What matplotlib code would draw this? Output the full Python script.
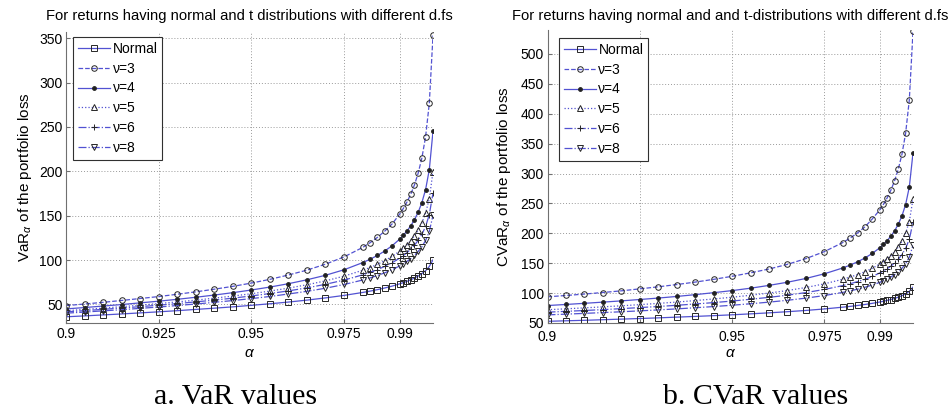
#import necessary libraries
import matplotlib
matplotlib.use('Agg')
import matplotlib.pyplot as plt

plt.rcParams['font.family'] = ['Liberation Sans', 'DejaVu Sans']
plt.rcParams['mathtext.fontset'] = 'custom'
plt.rcParams['mathtext.rm'] = 'Liberation Sans'
plt.rcParams['mathtext.it'] = 'Liberation Sans:italic'

#confidence levels
alpha = [0.900, 0.905, 0.910, 0.915, 0.920, 0.925, 0.930, 0.935, 0.940, 0.945,
         0.950, 0.955, 0.960, 0.965, 0.970, 0.975, 0.980, 0.982, 0.984, 0.986,
         0.988, 0.990, 0.991, 0.992, 0.993, 0.994, 0.995, 0.996, 0.997, 0.998, 0.999]

#VaR of the portfolio loss (panel a)
var_normal = [36.0, 37.0, 38.1, 39.2, 40.4, 41.6, 42.9, 44.3, 45.7, 47.2, 48.9, 50.7, 52.6, 54.8, 57.3, 60.1,
              63.4, 64.9, 66.6, 68.5, 70.6, 73.1, 74.5, 76.0, 77.7, 79.7, 81.9, 84.7, 88.0, 92.7, 100.2]
var_t3 = [48.6, 50.4, 52.3, 54.4, 56.6, 58.8, 61.4, 64.1, 67.1, 70.3, 74.0, 78.2, 83.1, 88.6, 95.3, 103.5,
          114.1, 119.4, 125.5, 132.6, 140.8, 151.7, 158.1, 165.5, 174.2, 184.7, 197.9, 215.0, 238.9, 276.5, 353.1]
var_t4 = [44.9, 46.4, 48.1, 49.8, 51.7, 53.6, 55.7, 58.0, 60.5, 63.2, 66.2, 69.5, 73.3, 77.7, 82.8, 89.0,
          97.0, 100.8, 105.1, 110.2, 116.2, 123.5, 127.9, 132.8, 138.6, 145.5, 153.9, 164.7, 179.4, 201.8, 245.1]
var_t5 = [42.9, 44.3, 45.8, 47.4, 49.1, 50.9, 52.8, 54.8, 57.0, 59.4, 62.0, 65.0, 68.3, 72.1, 76.5, 81.8,
          88.4, 91.5, 95.1, 99.3, 104.1, 110.0, 113.4, 117.3, 121.9, 127.2, 133.6, 141.8, 152.7, 169.1, 199.7]
var_t6 = [41.6, 42.9, 44.4, 45.9, 47.4, 49.1, 50.9, 52.8, 54.8, 57.0, 59.5, 62.2, 65.2, 68.6, 72.6, 77.4,
          83.2, 86.0, 89.2, 92.8, 97.0, 102.1, 105.0, 108.4, 112.2, 116.7, 122.1, 128.8, 137.8, 151.1, 175.4]
var_t8 = [40.1, 41.3, 42.7, 44.0, 45.5, 47.0, 48.7, 50.4, 52.3, 54.3, 56.5, 58.9, 61.7, 64.7, 68.2, 72.4,
          77.4, 79.8, 82.5, 85.6, 89.1, 93.3, 95.7, 98.5, 101.6, 105.3, 109.6, 115.0, 122.0, 132.2, 150.3]

#CVaR of the portfolio loss (panel b)
cvar_normal = [52.8, 53.7, 54.5, 55.5, 56.5, 57.5, 58.6, 59.8, 61.0, 62.3, 63.7, 65.3, 67.0, 68.9, 71.0, 73.5,
               76.5, 77.8, 79.3, 81.0, 82.9, 85.1, 86.4, 87.8, 89.3, 91.1, 93.2, 95.7, 98.8, 103.0, 110.0]
cvar_t3 = [93.8, 96.0, 98.4, 101.0, 103.8, 107.1, 110.5, 114.3, 118.4, 123.0, 128.1, 133.9, 140.3, 148.1, 157.7, 169.4,
           184.6, 192.1, 200.7, 210.9, 224.2, 239.1, 248.5, 259.2, 272.0, 287.6, 306.9, 332.0, 367.2, 423.0, 537.5]
cvar_t4 = [79.2, 81.0, 82.9, 84.9, 87.0, 89.3, 91.7, 94.4, 97.4, 100.7, 104.2, 108.2, 112.9, 118.2, 124.5, 132.3,
           142.1, 146.9, 152.4, 158.8, 166.5, 175.8, 181.4, 187.8, 195.2, 204.1, 215.0, 229.0, 248.1, 277.4, 334.4]
cvar_t5 = [72.2, 73.7, 75.3, 77.0, 78.8, 80.7, 82.8, 85.0, 87.5, 90.2, 93.1, 96.4, 100.1, 104.3, 109.4, 115.5,
           123.2, 126.9, 131.0, 135.8, 141.6, 148.6, 152.8, 157.3, 162.6, 169.2, 176.9, 186.8, 200.3, 219.7, 257.3]
cvar_t6 = [68.1, 69.5, 70.9, 72.4, 74.0, 75.8, 77.6, 79.6, 81.8, 84.1, 86.7, 89.7, 92.9, 96.5, 100.9, 106.1,
           112.6, 115.8, 119.2, 123.1, 127.9, 133.7, 137.1, 140.8, 145.1, 150.3, 156.5, 164.5, 174.9, 190.0, 218.3]
cvar_t8 = [63.6, 64.8, 66.1, 67.4, 68.8, 70.3, 71.9, 73.6, 75.5, 77.5, 79.7, 82.2, 84.9, 88.0, 91.6, 95.9,
           101.2, 103.8, 106.6, 109.8, 113.6, 118.0, 120.7, 123.6, 126.9, 130.9, 135.5, 141.4, 149.1, 160.1, 179.9]

labels = ['Normal', 'ν=3', 'ν=4', 'ν=5', 'ν=6', 'ν=8']
xticks = [0.9, 0.925, 0.95, 0.975, 0.99]
xticklabels = ['0.9', '0.925', '0.95', '0.975', '0.99']

#line style, marker, marker size, marker face for each series
styles = [('-', 's', 4, 'none'),
          ('--', 'o', 4, 'none'),
          ('-', '.', 5.5, '#202020'),
          (':', '^', 4, 'none'),
          ('-.', '+', 5, 'none'),
          ('-.', 'v', 4, 'none')]
line_col = '#5252d2'
mark_col = '#262626'


def draw(ax, series, ylim, yticks, ylabel, title, leg_xy, title_pad, xpad):
    for y, lab, (ls, mk, ms, mf) in zip(series, labels, styles):
        ax.plot(alpha, y, linestyle=ls, color=line_col, lw=0.9, marker=mk, ms=ms,
                mfc=mf, mec=mark_col, mew=0.7, label=lab)
    ax.set_xlim(0.9, 0.999)
    ax.set_ylim(*ylim)
    ax.set_xticks(xticks)
    ax.set_xticklabels(xticklabels)
    ax.set_yticks(yticks)
    ax.grid(True, linestyle=(0, (1, 2)), color='#9a9a9a', lw=0.7)
    for s in ['top', 'right']:
        ax.spines[s].set_visible(False)
    for s in ['left', 'bottom']:
        ax.spines[s].set_color('#707070')
    ax.tick_params(direction='in', length=3, color='#707070', labelsize=10, pad=2.5)
    ax.tick_params(axis='x', pad=xpad)
    ax.set_title(title, fontsize=10.6, pad=title_pad)
    ax.set_ylabel(ylabel, fontsize=11)
    ax.set_xlabel(r'$\alpha$', fontsize=11)
    leg = ax.legend(loc='upper left', bbox_to_anchor=leg_xy, fontsize=10, fancybox=False,
                    framealpha=1, edgecolor='#303030', borderaxespad=0, handlelength=2.3,
                    handletextpad=0.2, labelspacing=0.42, borderpad=0.35)
    leg.get_frame().set_linewidth(0.8)


fig = plt.figure(figsize=(9.48, 4.12), dpi=100)
ax1 = fig.add_axes([66 / 948, 1 - 323 / 412, 367 / 948, 291 / 412])
ax2 = fig.add_axes([547.5 / 948, 1 - 323 / 412, 365.5 / 948, 293 / 412])

draw(ax1, [var_normal, var_t3, var_t4, var_t5, var_t6, var_t8], (29, 357), range(50, 351, 50),
     r'VaR$_{\alpha}$ of the portfolio loss',
     'For returns having normal and t distributions with different d.fs', (0.019, 0.983), 8.5, 3)
draw(ax2, [cvar_normal, cvar_t3, cvar_t4, cvar_t5, cvar_t6, cvar_t8], (50, 540), range(50, 501, 50),
     r'CVaR$_{\alpha}$ of the portfolio loss',
     'For returns having normal and and t-distributions with different d.fs', (0.031, 0.973), 7.2, 5)

ax1.yaxis.set_label_coords(-0.087, 0.5)
ax2.yaxis.set_label_coords(-0.094, 0.5)
ax1.xaxis.set_label_coords(0.5, -0.08)
ax2.xaxis.set_label_coords(0.5, -0.08)

#captions under the panels
fig.text(0.249, 0.036, 'a. VaR values', ha='center', va='center', family='Liberation Serif', size=21.5)
fig.text(0.797, 0.036, 'b. CVaR values', ha='center', va='center', family='Liberation Serif', size=21.5)

plt.savefig('out.png', dpi=100)
